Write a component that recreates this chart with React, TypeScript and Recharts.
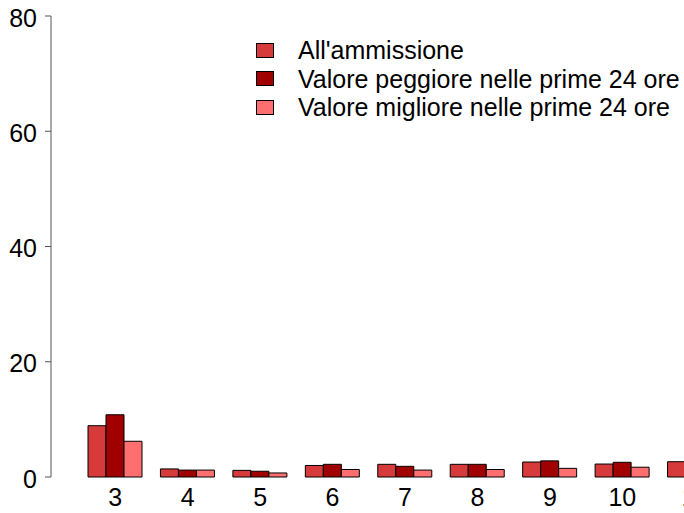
import React from 'react';
import { BarChart, Bar, XAxis, YAxis, Legend } from 'recharts';

const categories = ['3', '4', '5', '6', '7', '8', '9', '10', '11'];
const ammissione = [8.9, 1.4, 1.15, 2.0, 2.2, 2.2, 2.6, 2.25, 2.65];
const peggiore = [10.8, 1.2, 1.0, 2.2, 1.85, 2.2, 2.8, 2.55, null];
const migliore = [6.2, 1.2, 0.7, 1.3, 1.2, 1.3, 1.5, 1.7, null];
const yTicks = [0, 20, 40, 60, 80];

const seriesNames = [
  "All'ammissione",
  'Valore peggiore nelle prime 24 ore',
  'Valore migliore nelle prime 24 ore',
];
const seriesColors = ['#d63a3a', '#a00000', '#ff6f6f'];

const data = categories.map((c, i) => ({
  cat: c,
  a: ammissione[i],
  p: peggiore[i],
  m: migliore[i],
}));

const FONT = '"Liberation Sans", Arial, Helvetica, sans-serif';

const YTick = (props: any) => {
  const { x, y, payload } = props;
  return (
    <text x={x} y={y + 10.5} textAnchor="end" fontSize={25} fill="#000" fontFamily={FONT}>
      {payload.value}
    </text>
  );
};

const XTick = (props: any) => {
  const { x, y, payload } = props;
  return (
    <text x={x} y={y + 29} textAnchor="middle" fontSize={25} fill="#000" fontFamily={FONT}>
      {payload.value}
    </text>
  );
};

const renderLegend = () => (
  <div style={{ fontFamily: FONT, fontSize: 25, color: '#000' }}>
    {seriesNames.map((n, i) => (
      <div key={n} style={{ display: 'flex', alignItems: 'center', height: 28.5, whiteSpace: 'nowrap' }}>
        <div
          style={{
            width: 18,
            height: 15,
            boxSizing: 'border-box',
            border: '1px solid #000',
            background: seriesColors[i],
            marginRight: 24,
            flexShrink: 0,
          }}
        />
        <span style={{ lineHeight: '28.5px' }}>{n}</span>
      </div>
    ))}
  </div>
);

export default function App() {
  return (
    <div style={{ position: 'absolute', left: 0, top: 0, width: 684, height: 513, overflow: 'hidden', background: '#fff' }}>
      <BarChart
        width={732}
        height={513}
        data={data}
        margin={{ top: 16, right: 1, bottom: 0, left: 0 }}
        barSize={18}
        barGap={0}
      >
        <XAxis
          dataKey="cat"
          height={36}
          axisLine={false}
          tickLine={false}
          tickSize={0}
          tickMargin={0}
          padding={{ left: 28, right: 0 }}
          tick={<XTick />}
          interval={0}
        />
        <YAxis
          type="number"
          domain={[0, 80]}
          ticks={yTicks}
          width={51}
          tickSize={6}
          tickMargin={8}
          axisLine={{ stroke: '#555' }}
          tickLine={{ stroke: '#555' }}
          tick={<YTick />}
          interval={0}
        />
        <Legend
          layout="vertical"
          align="center"
          verticalAlign="middle"
          wrapperStyle={{ top: 36, left: 256, width: 'auto' }}
          content={renderLegend}
        />
        <Bar dataKey="a" name={seriesNames[0]} fill={seriesColors[0]} stroke="#000" strokeWidth={1} isAnimationActive={false} />
        <Bar dataKey="p" name={seriesNames[1]} fill={seriesColors[1]} stroke="#000" strokeWidth={1} isAnimationActive={false} />
        <Bar dataKey="m" name={seriesNames[2]} fill={seriesColors[2]} stroke="#000" strokeWidth={1} isAnimationActive={false} />
      </BarChart>
    </div>
  );
}
